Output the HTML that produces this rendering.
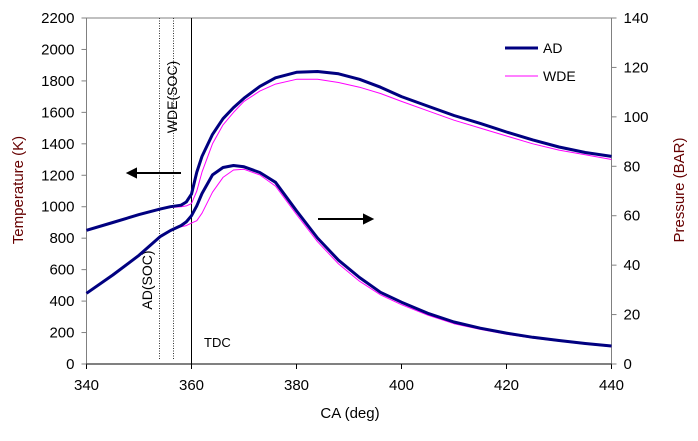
<!DOCTYPE html>
<html><head><meta charset="utf-8"><style>
body{margin:0;background:#fff;font-family:"Liberation Sans",Arial,sans-serif}
svg text{font-family:"Liberation Sans",Arial,sans-serif}
</style></head><body>
<svg width="698" height="436" viewBox="0 0 698 436" id="chart">
<g id="axes"></g><g id="series"></g>
</svg>
<script>
const caValues=[340,345,350,354,356,358,359,360,361,362,364,366,368,370,373,376,380,384,388,392,396,400,405,410,415,420,425,430,435,440];
const tempAD=[850,900,950,985,1000,1010,1030,1080,1220,1320,1460,1560,1630,1690,1765,1820,1855,1860,1845,1810,1760,1700,1640,1580,1530,1475,1425,1380,1345,1320];
const tempWDE=[850,900,950,985,995,1000,1005,1020,1100,1220,1400,1520,1600,1670,1735,1780,1810,1810,1790,1760,1720,1670,1610,1550,1500,1450,1400,1360,1330,1300];
const presAD=[28.6,36,44,51.5,54,56,57.5,60,64,69,76.5,79.5,80.3,79.8,77.5,73.5,62,51,42,35,29,25,20.5,17,14.5,12.5,10.8,9.5,8.3,7.3];
const presWDE=[28.6,36,44,51.5,54,55.5,56,57,58,61,69.5,75.5,78.5,78.8,76.5,72,60.5,49.5,40.5,33.5,28,24,19.8,16.3,14,12,10.5,9.2,8,7];
const xTicks=[340,360,380,400,420,440];
const yLeftTicks=[0,200,400,600,800,1000,1200,1400,1600,1800,2000,2200];
const yRightTicks=[0,20,40,60,80,100,120,140];
const L=86.5,R=611.5,T=18,B=364;
const xs=v=>L+(v-340)/100*(R-L);
const yl=v=>B-v/2200*(B-T);
const yr=v=>B-v/140*(B-T);
const NS="http://www.w3.org/2000/svg";
function mk(p,tag,at,txt){const e=document.createElementNS(NS,tag);for(const k in at)e.setAttribute(k,at[k]);if(txt!==undefined)e.textContent=txt;p.appendChild(e);return e;}
const ax=document.getElementById('axes'),se=document.getElementById('series');
let e;
e=mk(ax,'line',{x1:L,y1:T,x2:R,y2:T,stroke:'#808080'});


e=mk(ax,'line',{x1:L,y1:T,x2:L,y2:B,stroke:'#808080'});


e=mk(ax,'line',{x1:R,y1:T,x2:R,y2:B,stroke:'#808080'});


e=mk(ax,'line',{x1:L,y1:B,x2:R,y2:B,stroke:'#000'});


xTicks.forEach(v=>{mk(ax,'line',{x1:xs(v),y1:B,x2:xs(v),y2:B+5,stroke:'#000'});
e=mk(ax,'text',{x:xs(v),y:B+26,'font-size':15,'text-anchor':'middle'},v);

});
yLeftTicks.forEach(v=>{mk(ax,'line',{x1:L-5,y1:yl(v),x2:L,y2:yl(v),stroke:'#808080'});
e=mk(ax,'text',{x:L-12,y:yl(v)+5,'font-size':15,'text-anchor':'end'},v);

});
yRightTicks.forEach(v=>{mk(ax,'line',{x1:R,y1:yr(v),x2:R+5,y2:yr(v),stroke:'#808080'});
e=mk(ax,'text',{x:R+12,y:yr(v)+5,'font-size':15,'text-anchor':'start'},v);

});
e=mk(ax,'text',{x:350,y:418,'font-size':15,'text-anchor':'middle'},'CA (deg)');


e=mk(ax,'text',{x:0,y:0,'font-size':15,'text-anchor':'middle',fill:'#600',transform:'translate(23,190) rotate(-90)'},'Temperature (K)');


e=mk(ax,'text',{x:0,y:0,'font-size':15,'text-anchor':'middle',fill:'#600',transform:'translate(684,190) rotate(-90)'},'Pressure (BAR)');


e=mk(ax,'line',{x1:159.5,y1:T,x2:159.5,y2:360,stroke:'#333','stroke-dasharray':'1,1.5'});


e=mk(ax,'line',{x1:173.5,y1:T,x2:173.5,y2:360,stroke:'#333','stroke-dasharray':'1,1.5'});


e=mk(ax,'line',{x1:xs(360),y1:T,x2:xs(360),y2:B,stroke:'#000'});


e=mk(ax,'text',{x:0,y:0,'font-size':14,'text-anchor':'middle',transform:'translate(152,280) rotate(-90)'},'AD(SOC)');


e=mk(ax,'text',{x:0,y:0,'font-size':14,'text-anchor':'middle',transform:'translate(177,97) rotate(-90)'},'WDE(SOC)');


e=mk(ax,'text',{x:204,y:347,'font-size':13},'TDC');


e=mk(ax,'path',{d:'M181,173H128M128,173l8,-4v8z',stroke:'#000','stroke-width':2,fill:'#000'});


e=mk(ax,'path',{d:'M318,219H372M372,219l-8,-4v8z',stroke:'#000','stroke-width':2,fill:'#000'});


function line(vals,yf,col,w,name){const d=vals.map((v,i)=>(i?'L':'M')+xs(caValues[i]).toFixed(1)+','+yf(v).toFixed(1)).join('');
const p=mk(se,'path',{d:d,stroke:col,'stroke-width':w,fill:'none','stroke-linejoin':'round'});

}
line(tempWDE,yl,'#ff00ff',1,'temperature-wde-line');
line(presWDE,yr,'#ff00ff',1,'pressure-wde-line');
line(tempAD,yl,'#000080',3,'temperature-ad-line');
line(presAD,yr,'#000080',3,'pressure-ad-line');
e=mk(ax,'line',{x1:505,y1:48,x2:538,y2:48,stroke:'#000080','stroke-width':3});


e=mk(ax,'text',{x:543,y:53,'font-size':14},'AD');


e=mk(ax,'line',{x1:505,y1:76,x2:538,y2:76,stroke:'#ff00ff','stroke-width':1});


e=mk(ax,'text',{x:543,y:81,'font-size':14},'WDE');


</script>
</body></html>
